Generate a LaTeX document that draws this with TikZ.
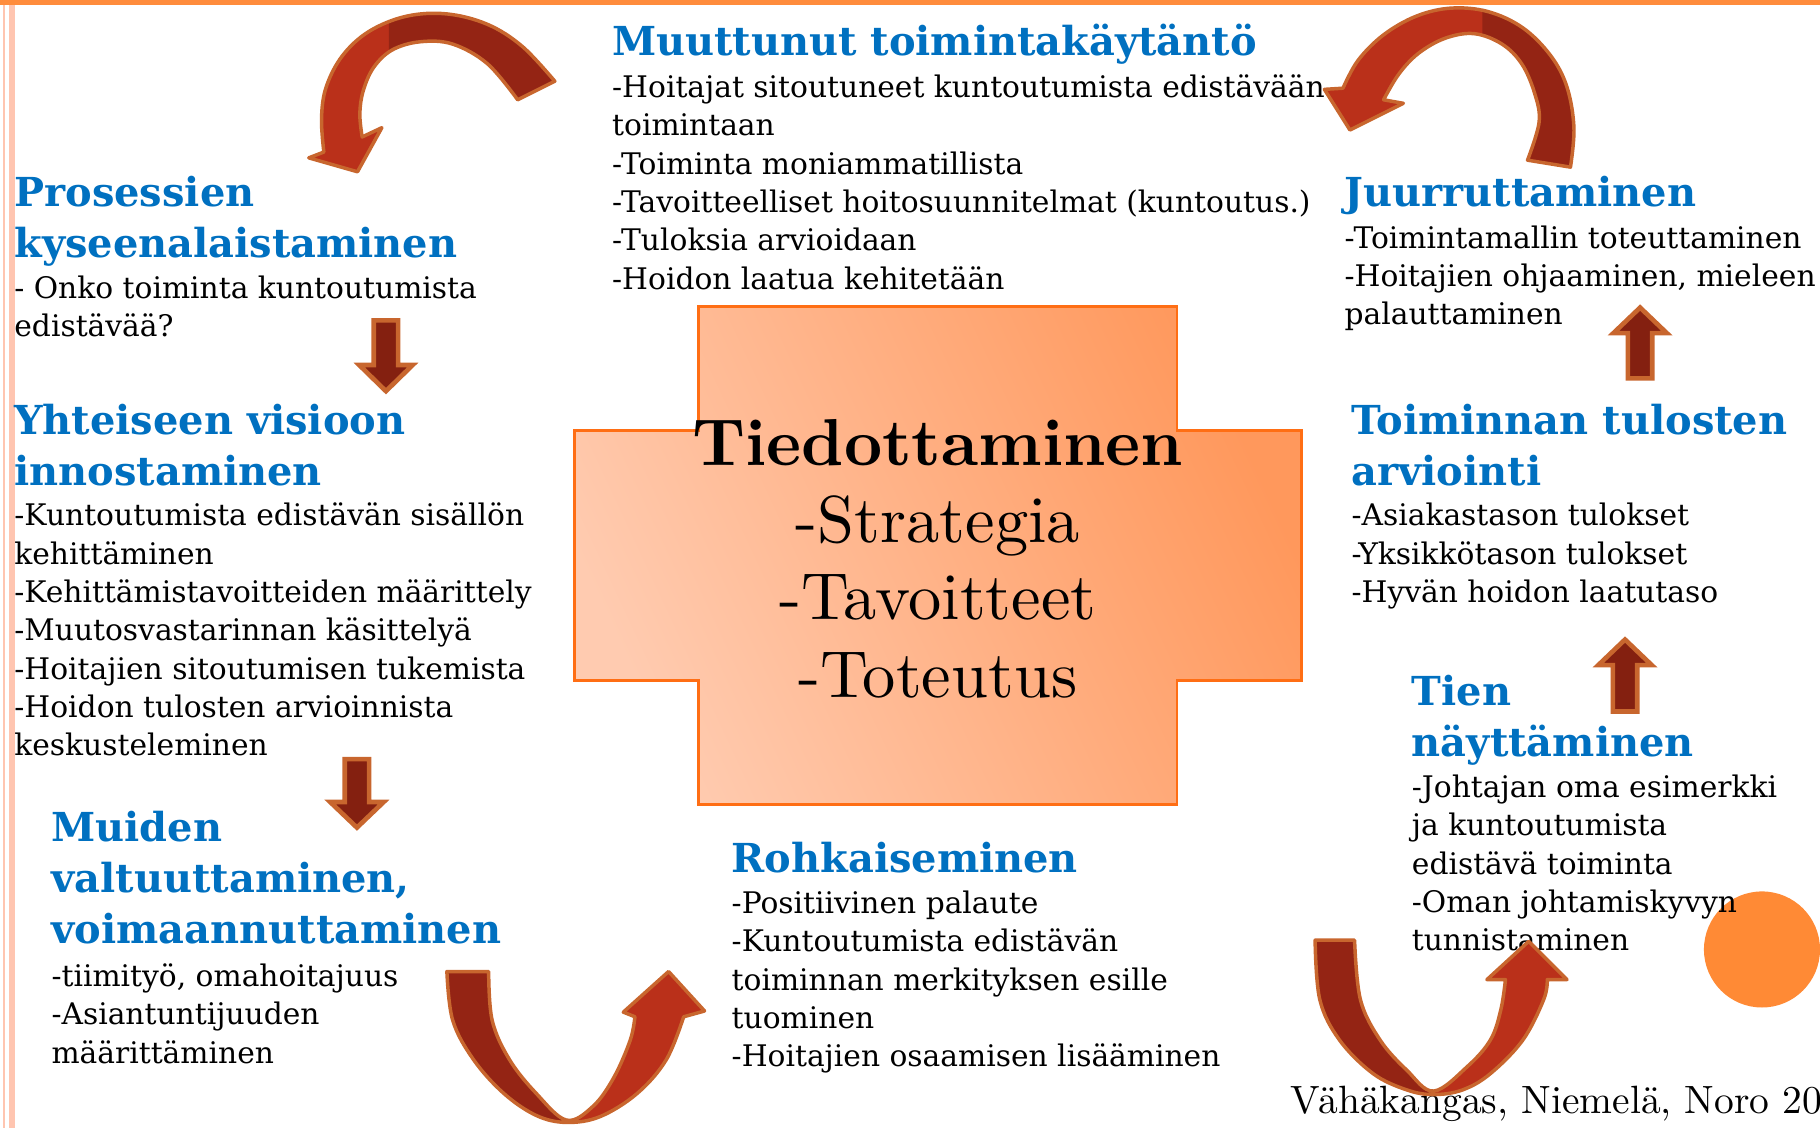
\documentclass[tikz,border=0pt]{standalone}
\usepackage{fontspec}
\newfontfamily\schoolfont{DejaVu Serif}
\newfontfamily\hubfont{lmroman10-regular.otf}[BoldFont=lmroman10-bold.otf]

\definecolor{headblue}{RGB}{0,112,192}
\definecolor{topline}{RGB}{255,140,60}
\definecolor{sideline}{RGB}{255,197,176}
\definecolor{crossedge}{RGB}{255,110,20}
\definecolor{crosslight}{RGB}{255,203,176}
\definecolor{crossdark}{RGB}{255,152,92}
\definecolor{spot}{RGB}{255,138,53}
\definecolor{arrowback}{RGB}{148,36,20}
\definecolor{arrowfront}{RGB}{186,48,26}
\definecolor{arrowrim}{RGB}{200,102,46}
\definecolor{stubfill}{RGB}{132,32,16}

\tikzset{
  head/.style={anchor=base west,inner sep=0pt,text=headblue,
    font=\schoolfont\bfseries\fontsize{17.2}{22}\selectfont},
  body/.style={anchor=base west,inner sep=0pt,
    font=\schoolfont\fontsize{12.8}{16.5}\selectfont},
  rim/.style={draw=arrowrim,line width=1.5pt,line join=round},
  stubrim/.style={draw=arrowrim,line width=2pt,line join=miter,fill=stubfill}
}

\newcommand{\lines}[2][l]{\begin{tabular}[t]{@{}#1@{}}#2\end{tabular}}
% straight block arrow: x, tail y, head base y, tip y
\newcommand{\stub}[4]{%
  \path[stubrim] (#1-10.5,#2) -- (#1-10.5,#3) -- (#1-23,#3) -- (#1,#4)
    -- (#1+23,#3) -- (#1+10.5,#3) -- (#1+10.5,#2) -- cycle;}

\begin{document}
\begin{tikzpicture}[x=0.5pt,y=-0.5pt]
\useasboundingbox (0,0) rectangle (1568,972);

% frame
\fill[topline] (0,0) rectangle (1568,4.5);
\draw[sideline,line width=0.6pt] (3.4,4.5) -- (3.4,972);
\draw[sideline,line width=2.75pt] (10.2,4.5) -- (10.2,972);
\fill[spot] (1518,818) circle (50);

% centre cross
\draw[draw=crossedge,line width=1.25pt,left color=crosslight,right color=crossdark,shading angle=115]
  (602,264) -- (1014,264) -- (1014,371) -- (1121,371) -- (1121,586) -- (1014,586)
  -- (1014,693) -- (602,693) -- (602,586) -- (495,586) -- (495,371) -- (602,371) -- cycle;
\node[anchor=base,inner sep=0pt,font=\hubfont\fontsize{28.6}{33.25}\selectfont] (hub) at (808,401)
  {\lines[c]{\textbf{Tiedottaminen}\\-Strategia\\-Tavoitteet\\-Toteutus}};

% text blocks
\node[head] (muutHead) at (527,48) {\lines{Muuttunut toimintakäytäntö}};
\node[body] (muutBody) at (527,84) {\lines{-Hoitajat sitoutuneet kuntoutumista edistävään\\toimintaan\\-Toiminta moniammatillista\\-Tavoitteelliset hoitosuunnitelmat (kuntoutus.)\\-Tuloksia arvioidaan\\-Hoidon laatua kehitetään}};

\node[head] (prosHead) at (12,178) {\lines{Prosessien\\kyseenalaistaminen}};
\node[body] (prosBody) at (12,257) {\lines{- Onko toiminta kuntoutumista\\edistävää?}};

\node[head] (visioHead) at (12,374) {\lines{Yhteiseen visioon\\innostaminen}};
\node[body] (visioBody) at (12,453) {\lines{-Kuntoutumista edistävän sisällön\\kehittäminen\\-Kehittämistavoitteiden määrittely\\-Muutosvastarinnan käsittelyä\\-Hoitajien sitoutumisen tukemista\\-Hoidon tulosten arvioinnista\\keskusteleminen}};

\node[head] (muidHead) at (44,725) {\lines{Muiden\\valtuuttaminen,\\voimaannuttaminen}};
\node[body] (muidBody) at (44,850) {\lines{-tiimityö, omahoitajuus\\-Asiantuntijuuden\\määrittäminen}};

\node[head] (rohkHead) at (630,752) {\lines{Rohkaiseminen}};
\node[body] (rohkBody) at (630,787) {\lines{-Positiivinen palaute\\-Kuntoutumista edistävän\\toiminnan merkityksen esille\\tuominen\\-Hoitajien osaamisen lisääminen}};

\node[head] (juurHead) at (1158,178) {\lines{Juurruttaminen}};
\node[body] (juurBody) at (1158,214) {\lines{-Toimintamallin toteuttaminen\\-Hoitajien ohjaaminen, mieleen\\palauttaminen}};

\node[head] (arvHead) at (1164,374) {\lines{Toiminnan tulosten\\arviointi}};
\node[body] (arvBody) at (1164,453) {\lines{-Asiakastason tulokset\\-Yksikkötason tulokset\\-Hyvän hoidon laatutaso}};

\node[head] (tienHead) at (1216,608) {\lines{Tien\\näyttäminen}};
\node[body] (tienBody) at (1216,687) {\lines{-Johtajan oma esimerkki\\ja kuntoutumista\\edistävä toiminta\\-Oman johtamiskyvyn\\tunnistaminen}};

\node[anchor=base west,inner sep=0pt,font=\hubfont\fontsize{17}{20}\selectfont] (cite) at (1111,959)
  {Vähäkangas, Niemelä, Noro 20};

% straight arrows
\stub{332.5}{276}{314.5}{337}
\stub{307.5}{654}{691}{713}
\stub{1413}{326}{287}{265}
\stub{1400}{613}{573}{551}

% curved arrows
\path[save path=\turnA] plot[smooth,tension=0.6] coordinates {(478,70) (450,40) (420,21) (385,12) (350,14) (318,27) (295,48) (281,75) (277,102) (279,131)}
  -- (266,136) -- (308,148) -- (329,110)
  -- plot[smooth,tension=0.6] coordinates {(312,118) (310,98) (313,78) (322,58) (338,43) (362,36) (390,38) (420,55) (446,86)} -- cycle;
\path[save path=\turnB] plot[smooth,tension=0.6] coordinates {(1353,144) (1356,110) (1350,75) (1336,48) (1312,24) (1282,10) (1250,7) (1220,14) (1192,30) (1170,52) (1157,76)}
  -- (1141,77) -- (1163,112) -- (1209,89)
  -- plot[smooth,tension=0.6] coordinates {(1192,86) (1205,64) (1222,46) (1245,33) (1270,29) (1294,38) (1311,55) (1322,80) (1326,105) (1316,138)} -- cycle;
\path[save path=\turnC] plot[smooth,tension=0.6] coordinates {(385,837) (390,879) (408,913) (434,942) (462,961) (488,967) (517,962) (549,942) (574,913) (589,876)}
  -- (607,871) -- (576,837) -- (537,872)
  -- plot[smooth,tension=0.6] coordinates {(547,876) (543,896) (529,928) (511,953) (488,965) (462,942) (439,913) (424,879) (421,837)} -- cycle;
\path[save path=\turnD] plot[smooth,tension=0.6] coordinates {(1133,810) (1137,861) (1154,896) (1183,925) (1212,939) (1235,943) (1260,939) (1284,925) (1312,896) (1330,861) (1333,844)}
  -- (1350,844) -- (1317,811) -- (1281,844)
  -- plot[smooth,tension=0.6] coordinates {(1297,844) (1293,870) (1284,896) (1264,919) (1235,940) (1212,922) (1189,896) (1172,861) (1167,810)} -- cycle;

\fill[arrowfront,use path=\turnA];
\fill[arrowfront,use path=\turnB];
\fill[arrowfront,use path=\turnC];
\fill[arrowfront,use path=\turnD];
\begin{scope}
  \clip (335,0) rectangle (500,160);
  \fill[arrowback,use path=\turnA];
\end{scope}
\begin{scope}
  \clip (1277,0) rectangle (1370,160);
  \fill[arrowback,use path=\turnB];
\end{scope}
\begin{scope}
  \clip (370,820) rectangle (488,980);
  \fill[arrowback,use path=\turnC];
\end{scope}
\begin{scope}
  \clip (1120,800) rectangle (1235,960);
  \fill[arrowback,use path=\turnD];
\end{scope}
\draw[rim,use path=\turnA];
\draw[rim,use path=\turnB];
\draw[rim,use path=\turnC];
\draw[rim,use path=\turnD];
\end{tikzpicture}
\end{document}
